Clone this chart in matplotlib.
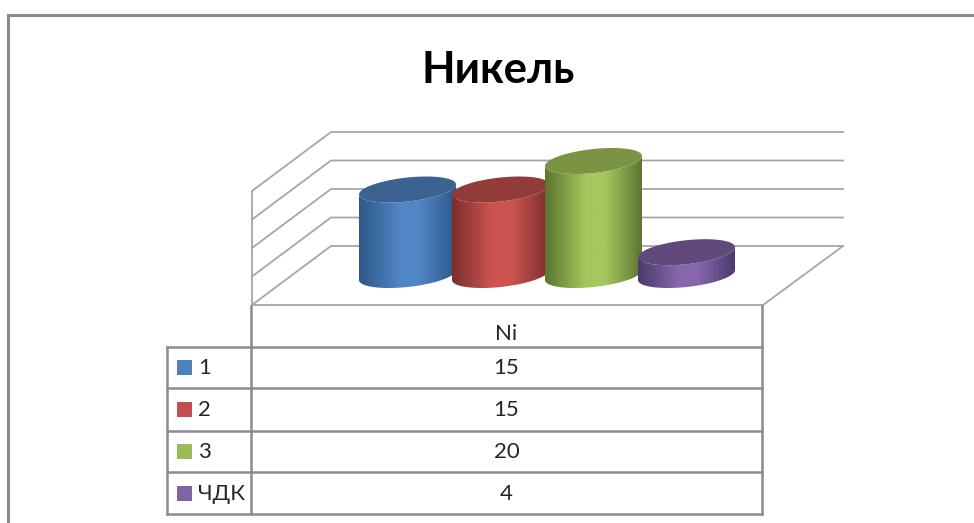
import matplotlib
matplotlib.use("Agg")
import matplotlib.pyplot as plt
import numpy as np
from matplotlib.colors import LinearSegmentedColormap
from matplotlib.patches import Polygon, Rectangle

# chart data
title = "Никель"
category = "Ni"
series_names = ["1", "2", "3", "ЧДК"]
series_values = [15, 15, 20, 4]
grid_values = [0, 5, 10, 15, 20]

# colours per series: edge of cylinder, middle of cylinder, top cap, legend swatch
edge_colors = ["#2f5888", "#7c2f2d", "#5c7630", "#4b3a6c"]
mid_colors = ["#5186c8", "#cc5450", "#a5c75e", "#8767ac"]
top_colors = ["#3b6291", "#923c3a", "#7a9444", "#604a7b"]
legend_colors = ["#4f81bd", "#c0504d", "#9bbb59", "#8064a2"]

GRID = "#a6a6a6"
TABLE = "#8c8c8c"
TEXT = "#262626"
FONT = ["Lato", "Open Sans", "DejaVu Sans"]

# layout in pixels
px_per_unit = 5.7
base_y = 275
bar_left = 359
bar_step = 93
bar_width = 97
cap_b = 12
cap_shear = 5

fig = plt.figure(figsize=(9.74, 5.23), dpi=100)
ax = fig.add_axes([0, 0, 1, 1])


def cap_points(cx, cy, a, t):
    # sheared ellipse, right side sits higher than the left
    return np.column_stack([cx + a * np.cos(t),
                            cy + cap_b * np.sin(t) - cap_shear * np.cos(t)])


# outer frame
ax.plot([8, 8, 974], [523, 15, 15], color="#8c8c8c", lw=2.2, solid_joinstyle="miter")

ax.text(498, 70, title, ha="center", va="center", fontsize=31.5,
        fontweight="bold", family=FONT, color="black")

# back wall, side wall, floor
wall_dy = 59
back_left = 331
back_right = 843
floor_back_y = 246
front_left = 252
front_right = 763
for g in grid_values:
    y = floor_back_y - g * px_per_unit
    ax.plot([front_left, back_left, back_right],
            [y + wall_dy, y, y], color=GRID, lw=1.3)
ax.plot([front_left, front_left],
        [floor_back_y + wall_dy, floor_back_y - max(grid_values) * px_per_unit + wall_dy],
        color=GRID, lw=1.3)
ax.plot([front_left, front_right, back_right],
        [floor_back_y + wall_dy, floor_back_y + wall_dy, floor_back_y],
        color=GRID, lw=1.3)

# cylinders, later ones sit in front
for i, v in enumerate(series_values):
    a = bar_width / 2
    cx = bar_left + i * bar_step + a
    top_y = base_y - v * px_per_unit
    front = np.linspace(np.pi, 0, 80)
    body = np.vstack([cap_points(cx, base_y, a, front),
                      cap_points(cx, top_y, a, front[::-1])])
    clip = Polygon(body, closed=True, transform=ax.transData, fc="none", ec="none")
    ax.add_patch(clip)
    cmap = LinearSegmentedColormap.from_list(
        "shade", [(0, edge_colors[i]), (0.42, mid_colors[i]), (0.62, mid_colors[i]),
                  (1, edge_colors[i])])
    img = ax.imshow(np.linspace(0, 1, 200)[None, :], cmap=cmap, aspect="auto",
                    extent=[cx - a, cx + a, base_y + 20, top_y - 20],
                    zorder=3 + i, interpolation="bilinear")
    img.set_clip_path(clip)
    ax.add_patch(Polygon(cap_points(cx, top_y, a, np.linspace(0, 2 * np.pi, 120)),
                         closed=True, fc=top_colors[i], ec="none", zorder=3 + i))

# data table
legend_x = 167
col_x = 251
table_right = 762
row_y = [306, 347, 388, 430.5, 472, 514]
header_y = 334
ax.plot([col_x, col_x], [row_y[0], row_y[-1]], color=TABLE, lw=1.8, zorder=2)
ax.plot([table_right, table_right], [row_y[0], row_y[-1]], color=TABLE, lw=1.8, zorder=2)
ax.plot([legend_x, legend_x], [row_y[1], row_y[-1]], color=TABLE, lw=1.8, zorder=2)
for y in row_y[1:]:
    ax.plot([legend_x, table_right], [y, y], color=TABLE, lw=1.8, zorder=2)

col_center = (col_x + table_right) / 2
ax.text(col_center, header_y, category, ha="center", va="center",
        fontsize=16, family=FONT, color=TEXT)
for i, (name, v) in enumerate(zip(series_names, series_values)):
    y = (row_y[i + 1] + row_y[i + 2]) / 2
    ax.add_patch(Rectangle((177, y - 7.5), 15, 15, fc=legend_colors[i], ec="none"))
    ax.text(198, y + 1, name, ha="left", va="center", fontsize=16, family=FONT, color=TEXT)
    ax.text(col_center, y + 1, str(v), ha="center", va="center",
            fontsize=16, family=FONT, color=TEXT)

ax.set_xlim(0, 974)
ax.set_ylim(523, 0)
ax.axis("off")

fig.savefig("out.png", dpi=100)
